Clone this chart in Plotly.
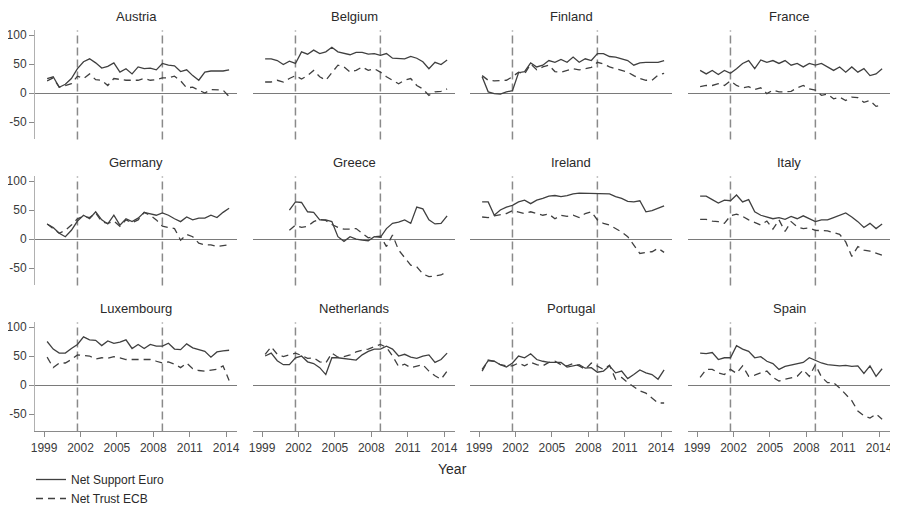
import plotly.graph_objects as go

# Survey dates (semi-annual Eurobarometer waves)
dates = [1999.25, 1999.75, 2000.25, 2000.75, 2001.25, 2001.75, 2002.25, 2002.75,
         2003.25, 2003.75, 2004.25, 2004.75, 2005.25, 2005.75, 2006.25, 2006.75,
         2007.25, 2007.75, 2008.25, 2008.75, 2009.25, 2009.75, 2010.25, 2010.75,
         2011.25, 2011.75, 2012.25, 2012.75, 2013.25, 2013.75, 2014.25]

countries = ["Austria", "Belgium", "Finland", "France",
             "Germany", "Greece", "Ireland", "Italy",
             "Luxembourg", "Netherlands", "Portugal", "Spain"]

austria_euro = [25,28,10,15,25,42,54,59,52,43,46,52,36,42,33,45,42,43,40,51,48,47,37,40,30,22,36,38,38,38,40]
austria_ecb = [21,26,10,13,16,29,25,33,23,22,13,25,23,22,22,22,25,22,23,26,26,29,21,9,10,5,0,6,5,5,-6]
belgium_euro = [59,59,56,49,55,51,71,67,74,68,71,79,71,69,66,70,70,67,68,65,68,60,59,59,63,60,54,42,53,49,57]
belgium_ecb = [19,19,22,19,25,30,24,30,39,28,22,36,48,45,36,39,45,39,42,36,28,22,16,22,25,13,7,-4,2,3,7]
finland_euro = [28,2,-1,-2,2,4,35,37,52,45,48,56,53,58,53,62,53,59,56,68,68,63,62,59,56,48,52,53,53,53,56]
finland_ecb = [30,22,21,21,22,28,36,33,50,40,45,48,37,36,39,42,40,42,44,53,50,45,42,38,36,30,25,22,22,31,34]
france_euro = [39,33,39,32,39,34,42,51,56,42,57,53,56,51,56,48,51,45,51,48,51,45,39,45,36,45,36,42,30,33,42]
france_ecb = [11,13,13,16,13,21,13,9,11,6,9,-1,5,2,2,3,9,13,7,5,-4,-2,-10,-7,-13,-7,-8,-16,-13,-23,-21]
germany_euro = [26,20,10,4,15,31,41,35,47,33,26,41,24,35,30,36,46,44,41,45,41,35,30,38,33,36,36,41,37,46,53]
germany_ecb = [26,18,10,15,24,35,39,37,45,30,27,31,22,33,28,33,46,41,33,22,20,18,-2,8,4,-7,-10,-10,-13,-11,-10]
greece_euro = [None,None,None,None,50,64,63,47,46,33,33,30,4,-4,4,0,-2,-3,4,3,18,27,29,33,27,55,52,33,26,27,40]
greece_ecb = [None,None,None,None,15,24,20,22,30,34,32,25,20,17,17,18,10,2,4,5,-13,7,-19,-32,-45,-48,-60,-65,-63,-62,-56]
ireland_euro = [64,64,41,50,55,58,64,67,61,67,70,74,75,73,75,78,79,79,79,79,79,78,73,70,65,64,66,47,49,53,57]
ireland_ecb = [38,37,40,42,44,49,47,44,47,44,41,43,35,41,39,41,37,44,47,33,27,24,18,12,4,-10,-25,-23,-22,-16,-23]
italy_euro = [74,74,68,62,67,66,76,64,68,47,41,38,35,37,34,39,35,40,35,30,33,33,37,41,45,38,30,20,27,18,26]
italy_ecb = [34,34,31,30,27,40,43,39,33,28,24,31,17,33,13,30,21,18,19,15,15,14,11,8,-5,-30,-13,-19,-21,-24,-28]
luxembourg_euro = [75,62,55,55,63,70,83,78,77,68,76,72,74,78,63,70,63,70,67,67,72,62,61,71,64,61,58,48,57,59,60]
luxembourg_ecb = [48,30,38,38,44,52,51,50,45,47,46,49,47,44,44,44,43,44,41,38,40,36,30,38,28,25,24,25,27,33,8]
netherlands_euro = [50,55,42,35,35,47,50,40,37,30,18,47,47,46,45,43,52,58,62,62,67,62,50,53,48,46,50,52,39,44,55]
netherlands_ecb = [53,66,53,49,52,55,51,46,47,40,38,55,48,49,52,57,60,62,66,70,65,50,32,36,30,33,35,24,16,10,24]
portugal_euro = [27,42,41,35,31,38,50,47,54,44,41,39,39,39,31,33,35,29,30,22,24,33,21,24,11,18,26,21,18,10,26]
portugal_ecb = [24,43,41,35,33,33,38,33,39,35,33,39,41,35,33,37,33,27,38,33,27,34,10,13,4,-3,-10,-14,-23,-31,-31]
spain_euro = [55,54,56,44,47,47,68,62,58,47,49,41,37,27,32,34,36,39,47,42,38,35,34,33,34,32,33,20,33,15,28]
spain_ecb = [13,27,27,21,18,27,20,33,15,17,21,24,13,7,10,13,15,26,15,35,14,4,4,-5,-16,-27,-45,-53,-57,-50,-59]

support_euro = [austria_euro, belgium_euro, finland_euro, france_euro,
                germany_euro, greece_euro, ireland_euro, italy_euro,
                luxembourg_euro, netherlands_euro, portugal_euro, spain_euro]
trust_ecb = [austria_ecb, belgium_ecb, finland_ecb, france_ecb,
             germany_ecb, greece_ecb, ireland_ecb, italy_ecb,
             luxembourg_ecb, netherlands_ecb, portugal_ecb, spain_ecb]

event_dates = [2001.75, 2008.75]
x_ticks = [1999, 2002, 2005, 2008, 2011, 2014]
y_ticks = [-50, 0, 50, 100]
y_tick_labels = ["-50", "0", "50", "100"]

# The page body has an 8px margin: figure sized so it fits the 898x506 window
OFF = 8
W, H = 898 - OFF, 506 - OFF


def fx(p):
    return (p - OFF) / W


def fy(p):
    return 1 - (p - OFF) / H


col_px = [(35, 237), (253, 455), (470, 672), (688, 890)]
row_px = [(30.4, 139.4), (176.4, 285.4), (322.4, 431.4)]

FONT = "Liberation Sans, Arial, sans-serif"
LINE = "#404040"
GRID = "#8a8a8a"

fig = go.Figure()
layout = {}
shapes = []
annotations = []

for k, name in enumerate(countries):
    r, c = divmod(k, 4)
    idx = k + 1
    xa = "xaxis" if idx == 1 else f"xaxis{idx}"
    ya = "yaxis" if idx == 1 else f"yaxis{idx}"
    xr = "x" if idx == 1 else f"x{idx}"
    yr = "y" if idx == 1 else f"y{idx}"
    x0, x1 = col_px[c]
    t0, t1 = row_px[r]
    bottom = (r == 2)
    left = (c == 0)
    layout[xa] = dict(
        domain=[fx(x0), fx(x1)], anchor=yr, range=[1998.25, 2014.9],
        tickvals=x_ticks, showticklabels=bottom, ticks="outside" if bottom else "",
        ticklen=5, tickcolor=GRID, showline=bottom, linecolor=GRID, linewidth=1,
        showgrid=False, zeroline=False,
        tickfont=dict(family=FONT, size=12, color="#3a3a3a"),
    )
    layout[ya] = dict(
        domain=[fy(t1), fy(t0)], anchor=xr, range=[-80, 108],
        tickvals=y_ticks, ticktext=y_tick_labels,
        showticklabels=left, ticks="outside" if left else "",
        ticklen=5, tickcolor=GRID, showline=left, linecolor="#b0b0b0", linewidth=1,
        showgrid=False, zeroline=True, zerolinecolor="#7a7a7a", zerolinewidth=1.2,
        tickfont=dict(family=FONT, size=12, color="#3a3a3a"),
    )
    fig.add_trace(go.Scatter(
        x=dates, y=support_euro[k], xaxis=xr, yaxis=yr, mode="lines",
        line=dict(color=LINE, width=1.3), name="Net Support Euro",
        showlegend=(k == 0), legendrank=1, connectgaps=False,
    ))
    fig.add_trace(go.Scatter(
        x=dates, y=trust_ecb[k], xaxis=xr, yaxis=yr, mode="lines",
        line=dict(color=LINE, width=1.3, dash="7px,5px"), name="Net Trust ECB",
        showlegend=(k == 0), legendrank=2, connectgaps=False,
    ))
    for ed in event_dates:
        shapes.append(dict(
            type="line", xref=xr, yref=f"{yr} domain", x0=ed, x1=ed, y0=0, y1=1,
            line=dict(color=GRID, width=1.5, dash="8px,4px"), layer="below",
        ))
    annotations.append(dict(
        text=name, x=fx((x0 + x1) / 2), y=fy(t0 - 14), xref="paper", yref="paper",
        xanchor="center", yanchor="middle", showarrow=False,
        font=dict(family=FONT, size=13, color="#2a2a2a"),
    ))

annotations.append(dict(
    text="Year", x=fx(452), y=fy(469), xref="paper", yref="paper",
    xanchor="center", yanchor="middle", showarrow=False,
    font=dict(family=FONT, size=14, color="#2a2a2a"),
))

fig.update_layout(
    **layout,
    shapes=shapes,
    annotations=annotations,
    width=W, height=H,
    margin=dict(l=0, r=0, t=0, b=0, autoexpand=False),
    paper_bgcolor="white", plot_bgcolor="white",
    showlegend=True,
    legend=dict(
        x=fx(31), y=fy(465), xanchor="left", yanchor="top",
        orientation="v", font=dict(family=FONT, size=12, color="#2a2a2a"),
        bgcolor="rgba(0,0,0,0)", tracegroupgap=0, itemwidth=30,
    ),
)

fig.write_html("out.html")
